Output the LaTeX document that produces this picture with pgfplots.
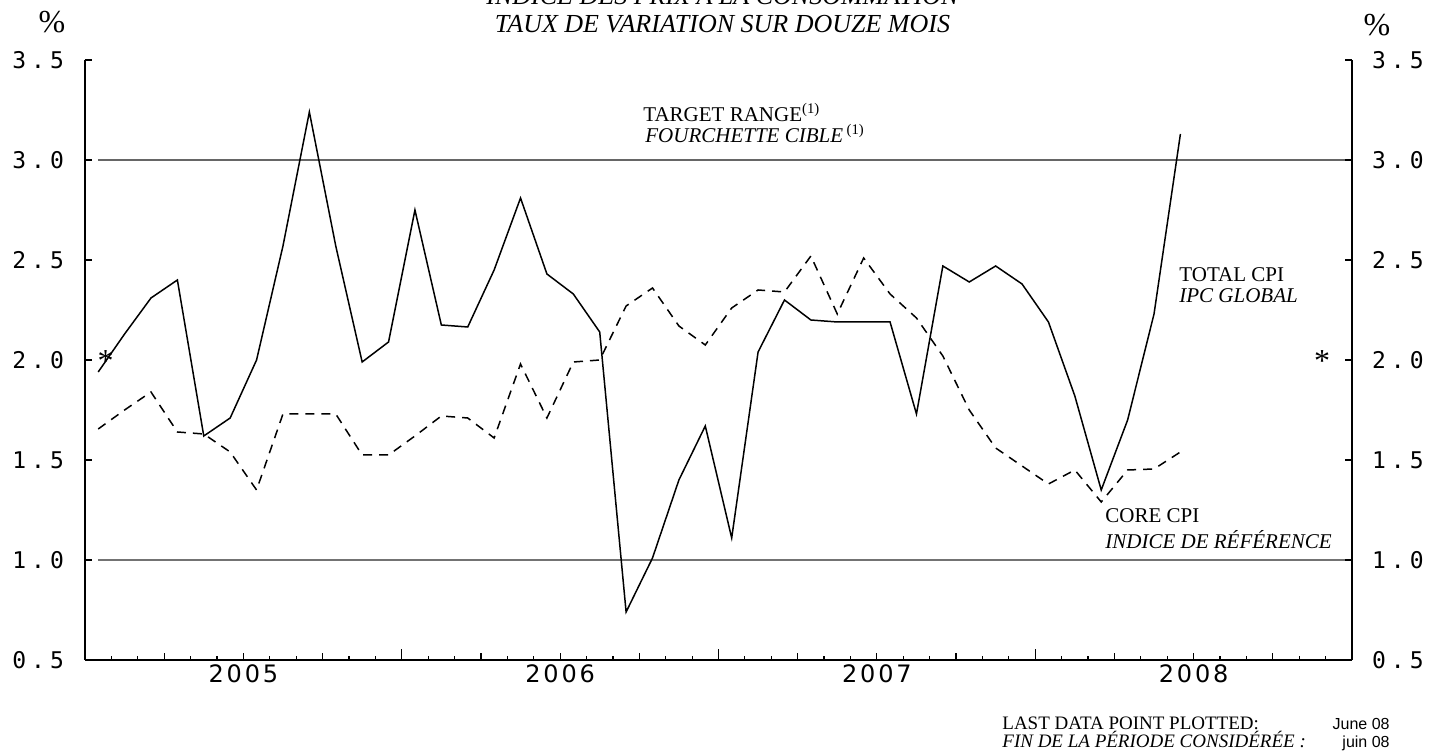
\documentclass[border=0pt]{standalone}
\usepackage{fontspec}
\setmainfont{Liberation Serif}
\newfontfamily\tickfont[LetterSpace=22]{DejaVu Sans Mono}
\newfontfamily\yearfont[LetterSpace=12]{DejaVu Sans}
\newfontfamily\arialfont{Liberation Sans}
\usepackage{pgfplots}
\usepackage{pgfplotstable}
\pgfplotsset{compat=1.18}

% month index 0 = Jan 2005
\pgfplotstableread{
m total core
0 1.94 1.655
1 2.13 1.75
2 2.31 1.84
3 2.40 1.64
4 1.62 1.63
5 1.71 1.54
6 2.00 1.35
7 2.57 1.73
8 3.24 1.73
9 2.57 1.73
10 1.99 1.525
11 2.09 1.525
12 2.75 1.62
13 2.175 1.72
14 2.165 1.71
15 2.45 1.61
16 2.81 1.98
17 2.43 1.71
18 2.33 1.99
19 2.14 2.00
20 0.74 2.27
21 1.01 2.36
22 1.40 2.17
23 1.67 2.075
24 1.11 2.26
25 2.04 2.35
26 2.30 2.34
27 2.20 2.52
28 2.19 2.23
29 2.19 2.51
30 2.19 2.33
31 1.73 2.21
32 2.47 2.02
33 2.39 1.75
34 2.47 1.56
35 2.38 1.47
36 2.19 1.38
37 1.82 1.45
38 1.35 1.29
39 1.70 1.45
40 2.23 1.455
41 3.13 1.54
}\cpidata

\pgfplotsset{
  common/.style={
    at={(0pt,0pt)}, anchor=south west,
    scale only axis, width=633.5pt, height=300pt,
    xmin=-0.5, xmax=47.5, ymin=0.5, ymax=3.5,
    tick align=inside,
    tick style={black, line width=0.6pt},
    /pgf/number format/assume math mode=true,
    clip=false,
  },
}

\begin{document}
\begin{tikzpicture}
\path[use as bounding box] (-42.5pt,-47pt) rectangle (678.5pt,330pt);

% Axis A: data, axis lines, year ticks and month ticks
\begin{axis}[common,
  axis x line*=bottom, axis y line*=box,
  axis line style={-, line width=0.75pt},
  xtick pos=lower,
  xtick={-0.5,11.5,23.5,35.5,47.5}, xticklabel={\relax},
  major tick length=5.5pt,
  minor xtick={-0.5,0.5,...,47.5},
  minor tick length=1.8pt,
  ytick=\empty,
]
\addplot[black!60, line width=0.6pt] coordinates {(0,3) (47.5,3)};
\addplot[black!55, line width=0.6pt] coordinates {(0,1) (47.5,1)};
\addplot[black, line width=0.75pt, dash pattern=on 4.5pt off 3.5pt] table[x=m, y=core] {\cpidata};
\addplot[black, line width=0.75pt] table[x=m, y=total] {\cpidata};
\node[font=\fontsize{16}{16}\selectfont, inner sep=0pt, yshift=-2pt] at (axis cs:0.28,2.016) {*};
\node[font=\fontsize{16}{16}\selectfont, inner sep=0pt, yshift=-2pt] at (axis cs:46.37,2.016) {*};
\end{axis}

% Axis B: quarter ticks, y ticks both sides, left y labels
\begin{axis}[common,
  axis line style={draw=none},
  xtick pos=lower, ytick pos=both, yticklabel pos=left,
  xtick={2.5,5.5,...,44.5}, xticklabel={\relax},
  major tick length=3.6pt,
  ytick={0.5,1.0,1.5,2.0,2.5,3.0,3.5},
  yticklabel={\pgfmathprintnumber[fixed,fixed zerofill,precision=1]{\tick}},
  yticklabel style={font=\fontsize{11.5}{12}\selectfont\tickfont, anchor=east, xshift=-7pt},
]
\end{axis}

% Axis C: year labels and right y labels
\begin{axis}[common,
  axis line style={draw=none},
  xtick pos=lower, ytick pos=right, yticklabel pos=right,
  major tick length=0pt,
  xtick={5.5,17.5,29.5,41.5}, xticklabels={2005,2006,2007,2008},
  xticklabel style={font=\fontsize{12}{13}\selectfont\yearfont, yshift=1pt},
  ytick={0.5,1.0,1.5,2.0,2.5,3.0,3.5},
  yticklabel={\pgfmathprintnumber[fixed,fixed zerofill,precision=1]{\tick}},
  yticklabel style={font=\fontsize{11.5}{12}\selectfont\tickfont, anchor=west, xshift=6.5pt},
]
\end{axis}

% titles and annotations
\node[anchor=base, inner sep=0pt, font=\fontsize{13}{15}\selectfont\itshape] at (318.75pt,327.5pt) {INDICE DES PRIX À LA CONSOMMATION};
\node[anchor=base, inner sep=0pt, font=\fontsize{13}{15}\selectfont\itshape] at (318.75pt,313.5pt) {TAUX DE VARIATION SUR DOUZE MOIS};
\node[inner sep=0pt, font=\fontsize{16}{17}\selectfont] at (-16.5pt,319pt) {\%};
\node[inner sep=0pt, font=\fontsize{16}{17}\selectfont] at (646pt,317.5pt) {\%};

\node[anchor=base west, inner sep=0pt, font=\fontsize{10.5}{12}\selectfont] at (279pt,269.2pt) {TARGET RANGE\textsuperscript{(1)}};
\node[anchor=base west, inner sep=0pt, font=\fontsize{10.5}{12}\selectfont\itshape] at (280pt,258.8pt) {FOURCHETTE CIBLE\,\textsuperscript{\upshape(1)}};

\node[anchor=base west, inner sep=0pt, font=\fontsize{10.5}{12}\selectfont] at (547pt,189.2pt) {TOTAL CPI};
\node[anchor=base west, inner sep=0pt, font=\fontsize{10.5}{12}\selectfont\itshape] at (547pt,178.7pt) {IPC GLOBAL};

\node[anchor=base west, inner sep=0pt, font=\fontsize{10.5}{12}\selectfont] at (510pt,68.7pt) {CORE CPI};
\node[anchor=base west, inner sep=0pt, font=\fontsize{10.5}{12}\selectfont\itshape] at (510pt,55.8pt) {INDICE DE RÉFÉRENCE};

\node[anchor=base west, inner sep=0pt, font=\fontsize{9.5}{11}\selectfont] at (458.5pt,-35pt) {LAST DATA POINT PLOTTED:};
\node[anchor=base west, inner sep=0pt, font=\fontsize{9.5}{11}\selectfont\itshape] at (458.5pt,-44pt) {FIN DE LA PÉRIODE CONSIDÉRÉE :};
\node[anchor=base east, inner sep=0pt, font=\fontsize{8}{9}\selectfont\arialfont] at (652.5pt,-35pt) {June 08};
\node[anchor=base east, inner sep=0pt, font=\fontsize{8}{9}\selectfont\arialfont] at (652.5pt,-44pt) {juin 08};
\end{tikzpicture}
\end{document}
